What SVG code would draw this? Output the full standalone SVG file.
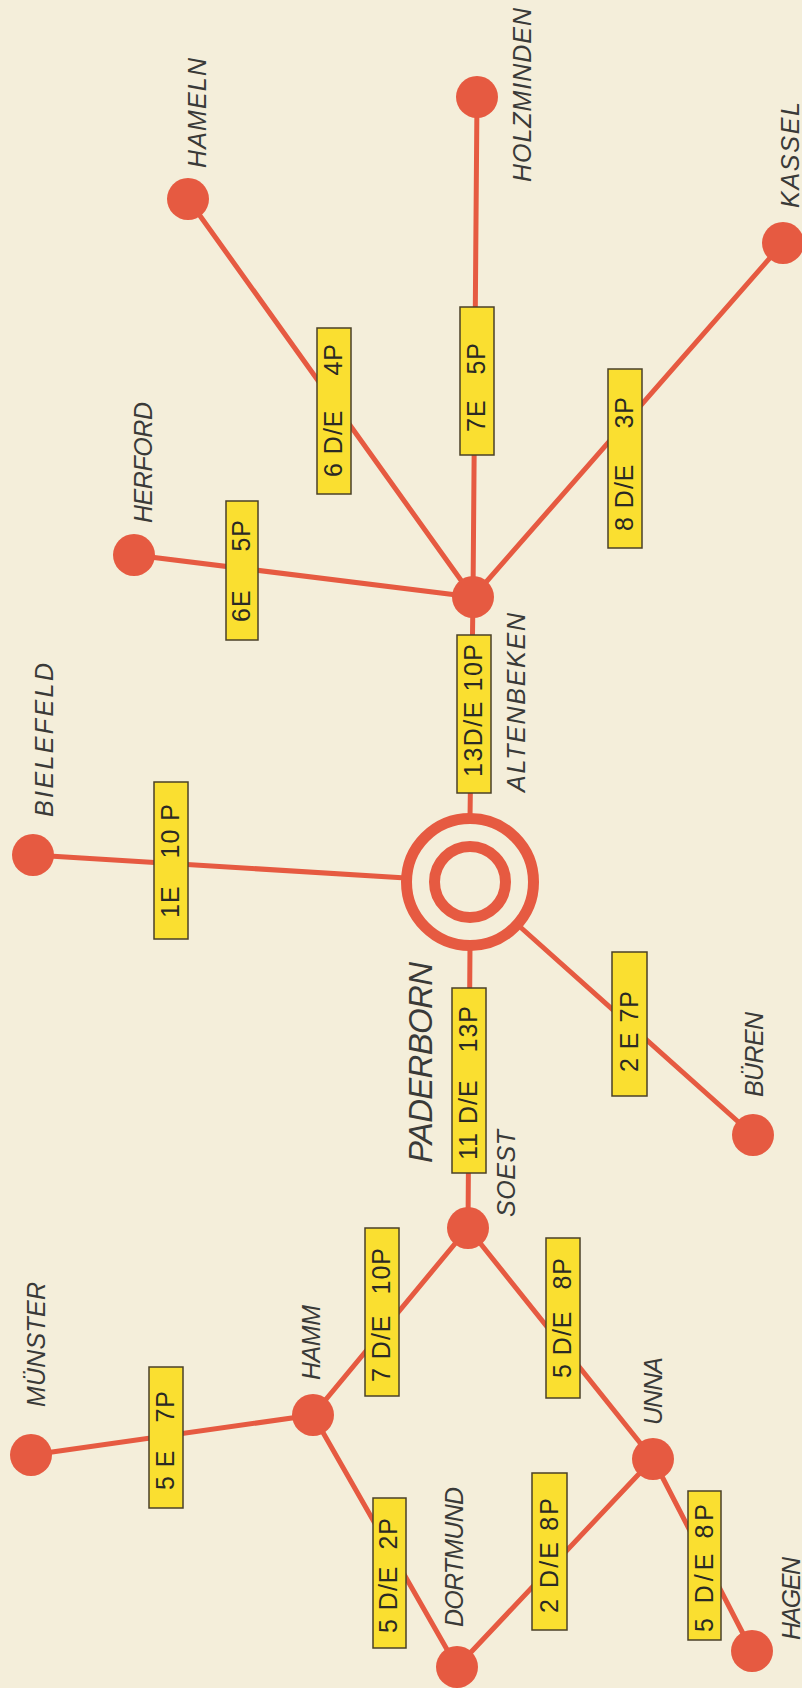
<svg xmlns="http://www.w3.org/2000/svg" width="802" height="1688" viewBox="0 0 802 1688">
<style>
.ln{stroke:#E65A41;stroke-width:5;stroke-linecap:round;fill:none}
.nd{fill:#E65A41}
.ring{fill:none;stroke:#E65A41;stroke-width:11}
.bx{fill:#FADF30;stroke:#4a4028;stroke-width:1.5}
.bt{font-family:"Liberation Sans",Arial,sans-serif;font-size:25px;fill:#2a2a24;letter-spacing:1px}
.lb{font-family:"Liberation Sans",Arial,sans-serif;font-style:italic;font-size:25px;fill:#3a3a38}
.lbb{font-family:"Liberation Sans",Arial,sans-serif;font-style:italic;font-size:33px;fill:#3a3a38}
</style>
<rect x="0" y="0" width="802" height="1688" fill="#F4EEDA"/>

<g id="connectors">
<line class="ln" x1="188" y1="199" x2="473" y2="597"/>
<line class="ln" x1="477" y1="97" x2="473" y2="597"/>
<line class="ln" x1="783" y1="243" x2="473" y2="597"/>
<line class="ln" x1="134" y1="555" x2="473" y2="597"/>
<line class="ln" x1="33" y1="855" x2="406" y2="878"/>
<line class="ln" x1="473" y1="597" x2="470" y2="818"/>
<line class="ln" x1="470" y1="946" x2="468" y2="1228"/>
<line class="ln" x1="518" y1="925" x2="753" y2="1135"/>
<line class="ln" x1="468" y1="1228" x2="313" y2="1415"/>
<line class="ln" x1="468" y1="1228" x2="653" y2="1459"/>
<line class="ln" x1="31" y1="1455" x2="313" y2="1415"/>
<line class="ln" x1="313" y1="1415" x2="457" y2="1667"/>
<line class="ln" x1="457" y1="1667" x2="653" y2="1459"/>
<line class="ln" x1="653" y1="1459" x2="752" y2="1651"/>
</g>

<g id="edge-labels">
<g id="e-herford">
<rect class="bx" x="226" y="501" width="32" height="139"/>
<text class="bt" x="250" y="622" transform="rotate(-90 250 622)">6E</text>
<text class="bt" x="250" y="519" text-anchor="end" transform="rotate(-90 250 519)">5P</text>
</g>
<g id="e-hameln">
<rect class="bx" x="317" y="328" width="34" height="166"/>
<text class="bt" x="342" y="477" transform="rotate(-90 342 477)">6 D/E</text>
<text class="bt" x="342" y="343" text-anchor="end" transform="rotate(-90 342 343)">4P</text>
</g>
<g id="e-holzminden">
<rect class="bx" x="460" y="307" width="34" height="148"/>
<text class="bt" x="485" y="432" transform="rotate(-90 485 432)">7E</text>
<text class="bt" x="485" y="342" text-anchor="end" transform="rotate(-90 485 342)">5P</text>
</g>
<g id="e-kassel">
<rect class="bx" x="608" y="369" width="34" height="179"/>
<text class="bt" x="633" y="531" transform="rotate(-90 633 531)">8 D/E</text>
<text class="bt" x="633" y="396" text-anchor="end" transform="rotate(-90 633 396)">3P</text>
</g>
<g id="e-altenbeken">
<rect class="bx" x="457" y="635" width="34" height="158"/>
<text class="bt" x="482" y="777" textLength="134" lengthAdjust="spacing" transform="rotate(-90 482 777)">13D/E 10P</text>
</g>
<g id="e-bielefeld">
<rect class="bx" x="154" y="782" width="34" height="157"/>
<text class="bt" x="179" y="918" transform="rotate(-90 179 918)">1E</text>
<text class="bt" x="179" y="803" text-anchor="end" transform="rotate(-90 179 803)">10 P</text>
</g>
<g id="e-soest">
<rect class="bx" x="452" y="988" width="34" height="185"/>
<text class="bt" x="477" y="1160" transform="rotate(-90 477 1160)">11 D/E</text>
<text class="bt" x="477" y="1005" text-anchor="end" transform="rotate(-90 477 1005)">13P</text>
</g>
<g id="e-bueren">
<rect class="bx" x="612" y="952" width="35" height="144"/>
<text class="bt" x="638" y="1072" transform="rotate(-90 638 1072)">2 E</text>
<text class="bt" x="638" y="990" text-anchor="end" transform="rotate(-90 638 990)">7P</text>
</g>
<g id="e-soest-hamm">
<rect class="bx" x="365" y="1228" width="34" height="168"/>
<text class="bt" x="390" y="1382" transform="rotate(-90 390 1382)">7 D/E</text>
<text class="bt" x="390" y="1247" text-anchor="end" transform="rotate(-90 390 1247)">10P</text>
</g>
<g id="e-soest-unna">
<rect class="bx" x="546" y="1238" width="34" height="160"/>
<text class="bt" x="571" y="1378" transform="rotate(-90 571 1378)">5 D/E</text>
<text class="bt" x="571" y="1257" text-anchor="end" transform="rotate(-90 571 1257)">8P</text>
</g>
<g id="e-muenster">
<rect class="bx" x="149" y="1367" width="34" height="141"/>
<text class="bt" x="174" y="1490" transform="rotate(-90 174 1490)">5 E</text>
<text class="bt" x="174" y="1390" text-anchor="end" transform="rotate(-90 174 1390)">7P</text>
</g>
<g id="e-hamm-dortmund">
<rect class="bx" x="373" y="1498" width="33" height="150"/>
<text class="bt" x="397" y="1633" transform="rotate(-90 397 1633)">5 D/E</text>
<text class="bt" x="397" y="1517" text-anchor="end" transform="rotate(-90 397 1517)">2P</text>
</g>
<g id="e-dortmund-unna">
<rect class="bx" x="532" y="1473" width="35" height="157"/>
<text class="bt" x="558" y="1613" textLength="116" lengthAdjust="spacing" transform="rotate(-90 558 1613)">2 D/E 8P</text>
</g>
<g id="e-unna-hagen">
<rect class="bx" x="688" y="1491" width="33" height="149"/>
<text class="bt" x="713" y="1632" textLength="129" lengthAdjust="spacing" transform="rotate(-90 713 1632)">5 D/E 8P</text>
</g>
</g>

<g id="node-paderborn">
<circle class="ring" cx="470" cy="882" r="63.5"/>
<circle class="ring" cx="470" cy="882" r="35.5"/>
<text class="lbb" x="432" y="1163" textLength="201" lengthAdjust="spacing" transform="rotate(-90 432 1163)">PADERBORN</text>
</g>
<g id="node-hameln">
<circle class="nd" cx="188" cy="199" r="21"/>
<text class="lb" x="206" y="168" textLength="110" lengthAdjust="spacing" transform="rotate(-90 206 168)">HAMELN</text>
</g>
<g id="node-holzminden">
<circle class="nd" cx="477" cy="97" r="21"/>
<text class="lb" x="531" y="182" textLength="174" lengthAdjust="spacing" transform="rotate(-90 531 182)">HOLZMINDEN</text>
</g>
<g id="node-kassel">
<circle class="nd" cx="783" cy="243" r="21"/>
<text class="lb" x="799" y="208" textLength="106" lengthAdjust="spacing" transform="rotate(-90 799 208)">KASSEL</text>
</g>
<g id="node-herford">
<circle class="nd" cx="134" cy="555" r="21"/>
<text class="lb" x="152" y="523" textLength="121" lengthAdjust="spacing" transform="rotate(-90 152 523)">HERFORD</text>
</g>
<g id="node-altenbeken">
<circle class="nd" cx="473" cy="597" r="21"/>
<text class="lb" x="525" y="792" textLength="179" lengthAdjust="spacing" transform="rotate(-90 525 792)">ALTENBEKEN</text>
</g>
<g id="node-bielefeld">
<circle class="nd" cx="33" cy="855" r="21"/>
<text class="lb" x="53" y="817" textLength="154" lengthAdjust="spacing" transform="rotate(-90 53 817)">BIELEFELD</text>
</g>
<g id="node-bueren">
<circle class="nd" cx="753" cy="1135" r="21"/>
<text class="lb" x="763" y="1097" textLength="85" lengthAdjust="spacing" transform="rotate(-90 763 1097)">BÜREN</text>
</g>
<g id="node-soest">
<circle class="nd" cx="468" cy="1228" r="21"/>
<text class="lb" x="515" y="1217" textLength="87" lengthAdjust="spacing" transform="rotate(-90 515 1217)">SOEST</text>
</g>
<g id="node-muenster">
<circle class="nd" cx="31" cy="1455" r="21"/>
<text class="lb" x="45" y="1407" textLength="125" lengthAdjust="spacing" transform="rotate(-90 45 1407)">MÜNSTER</text>
</g>
<g id="node-hamm">
<circle class="nd" cx="313" cy="1415" r="21"/>
<text class="lb" x="320" y="1380" textLength="75" lengthAdjust="spacing" transform="rotate(-90 320 1380)">HAMM</text>
</g>
<g id="node-unna">
<circle class="nd" cx="653" cy="1459" r="21"/>
<text class="lb" x="662" y="1425" textLength="68" lengthAdjust="spacing" transform="rotate(-90 662 1425)">UNNA</text>
</g>
<g id="node-dortmund">
<circle class="nd" cx="457" cy="1667" r="21"/>
<text class="lb" x="463" y="1627" textLength="140" lengthAdjust="spacing" transform="rotate(-90 463 1627)">DORTMUND</text>
</g>
<g id="node-hagen">
<circle class="nd" cx="752" cy="1651" r="21"/>
<text class="lb" x="800" y="1640" textLength="83" lengthAdjust="spacing" transform="rotate(-90 800 1640)">HAGEN</text>
</g>
</svg>
